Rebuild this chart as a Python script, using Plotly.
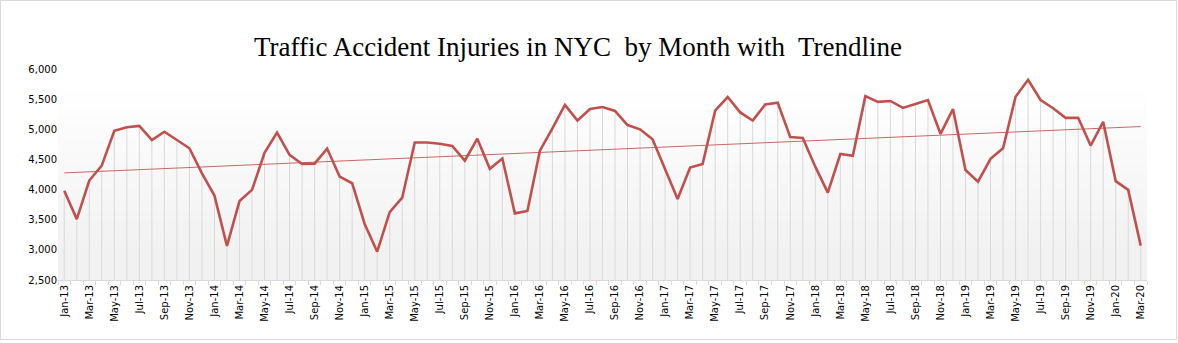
import numpy as np
import plotly.graph_objects as go

# ---- data ----
months = ["Jan", "Feb", "Mar", "Apr", "May", "Jun", "Jul", "Aug", "Sep", "Oct", "Nov", "Dec"]
years = ["13", "14", "15", "16", "17", "18", "19", "20"]
categories = [f"{m}-{y}" for y in years for m in months][:87]  # Jan-13 .. Mar-20

injuries = [
    3980, 3510, 4150, 4400, 4975, 5035, 5055, 4820, 4960, 4820, 4685, 4270,   # 2013
    3900, 3065, 3810, 3995, 4610, 4945, 4575, 4425, 4430, 4680, 4215, 4105,   # 2014
    3430, 2970, 3625, 3865, 4780, 4780, 4760, 4725, 4480, 4845, 4345, 4515,   # 2015
    3605, 3645, 4645, 5015, 5405, 5145, 5335, 5370, 5305, 5070, 5000, 4835,   # 2016
    4355, 3845, 4365, 4425, 5310, 5535, 5280, 5145, 5410, 5440, 4870, 4855,   # 2017
    4380, 3950, 4590, 4560, 5550, 5455, 5470, 5355, 5420, 5485, 4925, 5335,   # 2018
    4325, 4130, 4510, 4685, 5540, 5820, 5485, 5350, 5190, 5190, 4730, 5125,   # 2019
    4140, 3995, 3070,                                                         # 2020
]

y_min, y_max = 2500, 6000
y_ticks = list(range(2500, 6001, 500))

x_idx = np.arange(len(injuries))
tick_positions = list(x_idx[::2])
tick_labels = categories[::2]

# linear trendline (least squares)
slope, intercept = np.polyfit(x_idx, injuries, 1)
trend = slope * x_idx + intercept

# drop lines
drop_x, drop_y = [], []
for i, v in zip(x_idx, injuries):
    drop_x += [i, i, None]
    drop_y += [v, y_min, None]

LINE_RED = "#c0504d"

fig = go.Figure()
fig.add_trace(go.Scatter(x=drop_x, y=drop_y, mode="lines",
                         line=dict(color="#d9d9d9", width=1),
                         hoverinfo="skip", showlegend=False))
fig.add_trace(go.Scatter(x=x_idx, y=trend, mode="lines",
                         line=dict(color=LINE_RED, width=1),
                         opacity=0.85, showlegend=False))
fig.add_trace(go.Scatter(x=x_idx, y=injuries, mode="lines",
                         line=dict(color=LINE_RED, width=2.6),
                         text=categories, showlegend=False))

# gradient plot-area background (white at top -> light gray at bottom)
shapes = []
n_bands = 40
for k in range(n_bands):
    y0 = k / n_bands
    y1 = (k + 1) / n_bands
    t = (k + 0.5) / n_bands  # 0 bottom .. 1 top
    f = min(1.0, max(0.0, (t - 0.12) / 0.8))
    c = int(round(241 + (255 - 241) * f))
    shapes.append(dict(type="rect", xref="x domain", yref="y domain",
                       x0=0, x1=1, y0=y0, y1=y1 + 0.002,
                       fillcolor=f"rgb({c},{c},{c})", line=dict(width=0),
                       layer="below"))
# outer chart border
shapes.append(dict(type="rect", xref="paper", yref="paper",
                   x0=(0.5 - 58) / 1089, x1=(1176.5 - 58) / 1089,
                   y0=(280 - 339.5) / 211, y1=(280 - 0.5) / 211,
                   line=dict(color="#d9d9d9", width=1), layer="below"))

fig.update_layout(
    width=1178, height=343,
    margin=dict(l=58, r=31, t=69, b=63),
    paper_bgcolor="white",
    plot_bgcolor="white",
    shapes=shapes,
    title=dict(text="Traffic Accident Injuries in NYC  by Month with  Trendline",
               x=578 / 1178, xanchor="center", y=1 - 47 / 343, yanchor="middle",
               font=dict(family="Liberation Serif", size=27, color="black")),
    font=dict(family="DejaVu Sans", color="black"),
)

fig.update_xaxes(
    range=[-0.5, len(injuries) - 0.5],
    tickmode="array", tickvals=tick_positions, ticktext=tick_labels,
    tickangle=-90, tickfont=dict(family="DejaVu Sans", size=10, color="black"),
    ticks="", showgrid=False, zeroline=False,
    showline=True, linecolor="#d9d9d9", linewidth=1,
    minor=dict(tickmode="array", tickvals=[i - 0.5 for i in range(len(injuries) + 1)],
               ticks="outside", ticklen=4, tickcolor="#d9d9d9", showgrid=False),
)
fig.update_yaxes(
    range=[y_min, y_max], tickmode="array", tickvals=y_ticks,
    tickformat=",d", tickfont=dict(family="DejaVu Sans", size=10, color="black"),
    showgrid=False, zeroline=False, showline=False, ticks="",
)

fig.write_html("out.html")
